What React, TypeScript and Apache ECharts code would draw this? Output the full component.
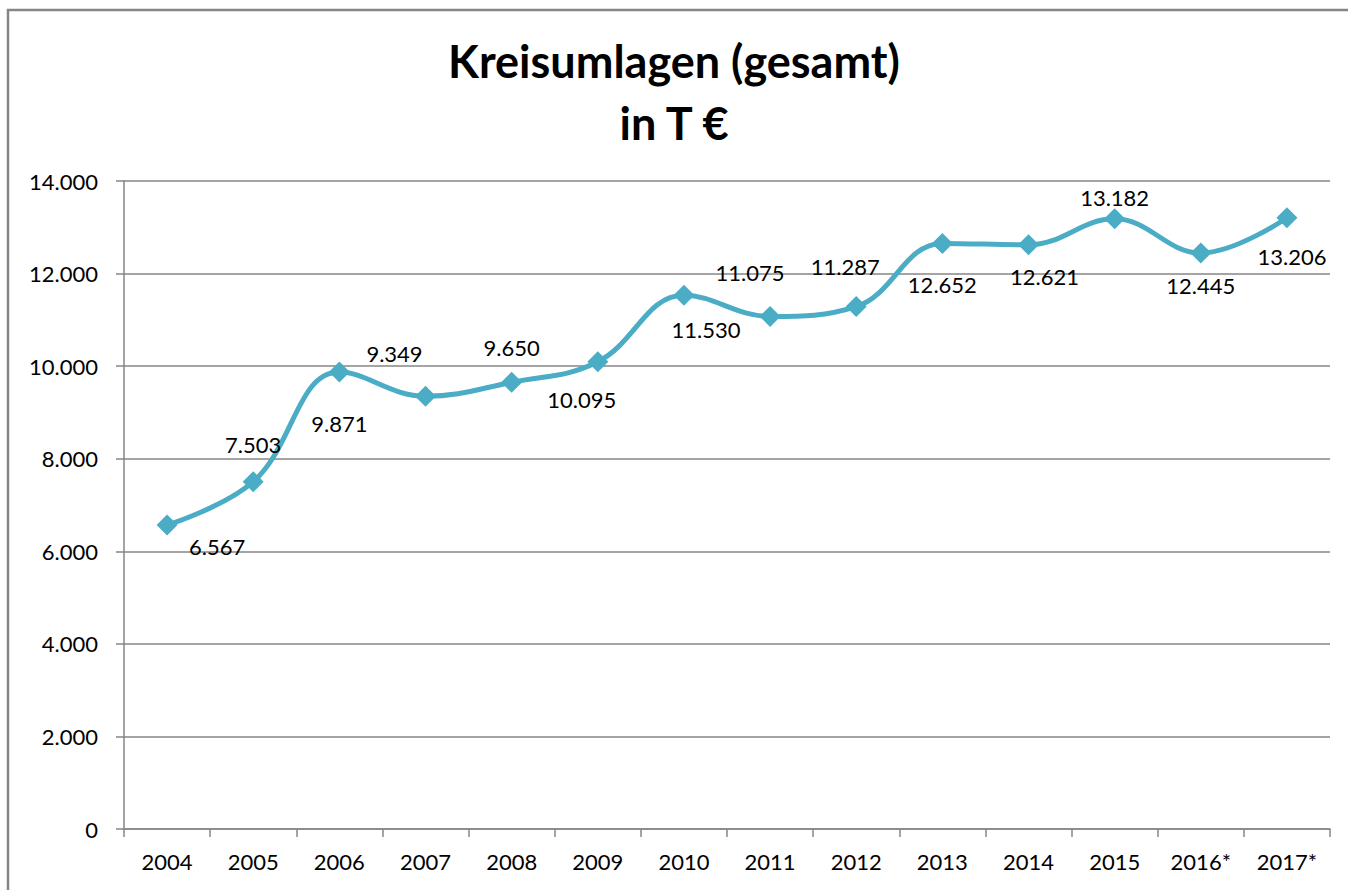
import React, { useEffect, useRef } from "react";
import * as echarts from "echarts";

const years = ["2004", "2005", "2006", "2007", "2008", "2009", "2010", "2011", "2012", "2013", "2014", "2015", "2016*", "2017*"];
const values = [6567, 7503, 9871, 9349, 9650, 10095, 11530, 11075, 11287, 12652, 12621, 13182, 12445, 13206];
// label offsets (dx, dy) relative to each point, as placed in the original
const labelOffsets: [number, number][] = [
  [50, 21], [0, -37], [0, 51], [-31, -43], [0, -35], [-16, 38], [22, 34],
  [-20, -44], [-11, -40], [0, 41], [16, 32], [0, -21], [0, 33], [5, 39],
];
const yTicks = { min: 0, max: 14000, interval: 2000 };

const fmt = (v: number) => String(Math.round(v)).replace(/\B(?=(\d{3})+(?!\d))/g, ".");

export default function App() {
  const ref = useRef<HTMLDivElement>(null);
  useEffect(() => {
    const chart = echarts.init(ref.current!, null, { renderer: "svg" });
    const font = "Lato, 'Open Sans', sans-serif";
    chart.setOption({
      animation: false,
      backgroundColor: "#ffffff",
      title: {
        text: "Kreisumlagen (gesamt)\nin T €",
        left: "center",
        top: 25,
        textStyle: { fontFamily: font, fontWeight: "bold", fontSize: 45, lineHeight: 62, color: "#000" },
      },
      graphic: [
        {
          type: "rect",
          shape: { x: 8, y: 10, width: 1400, height: 1000 },
          style: { fill: "none", stroke: "#868686", lineWidth: 2.5 },
          silent: true,
        },
      ],
      grid: { left: 124, right: 18, top: 181, bottom: 61 },
      xAxis: {
        type: "category",
        data: years,
        boundaryGap: true,
        axisLine: { lineStyle: { color: "#868686", width: 1.5 } },
        axisTick: { show: true, length: 8, lineStyle: { color: "#868686", width: 1.5 }, alignWithLabel: false },
        axisLabel: { color: "#000", fontFamily: font, fontSize: 22, margin: 21 },
      },
      yAxis: {
        type: "value",
        min: yTicks.min,
        max: yTicks.max,
        interval: yTicks.interval,
        axisLine: { show: true, lineStyle: { color: "#868686", width: 1.5 } },
        axisTick: { show: true, length: 8, lineStyle: { color: "#868686", width: 1.5 } },
        axisLabel: { color: "#000", fontFamily: font, fontSize: 22, margin: 26, formatter: (v: number) => fmt(v) },
        splitLine: { lineStyle: { color: "#868686", width: 1.5 } },
      },
      series: [
        {
          type: "line",
          data: values.map((v, i) => ({
            value: v,
            label: { offset: labelOffsets[i] },
          })),
          smooth: 0.4,
          symbol: "diamond",
          symbolSize: 21,
          lineStyle: { color: "#4BACC6", width: 5 },
          itemStyle: { color: "#4BACC6" },
          label: {
            show: true,
            position: "inside",
            color: "#000",
            fontFamily: font,
            fontSize: 22,
            formatter: (p: any) => fmt(p.value),
          },
        },
      ],
    });
    return () => chart.dispose();
  }, []);
  return <div ref={ref} style={{ position: "fixed", left: 0, top: 0, width: 1348, height: 890 }} />;
}
